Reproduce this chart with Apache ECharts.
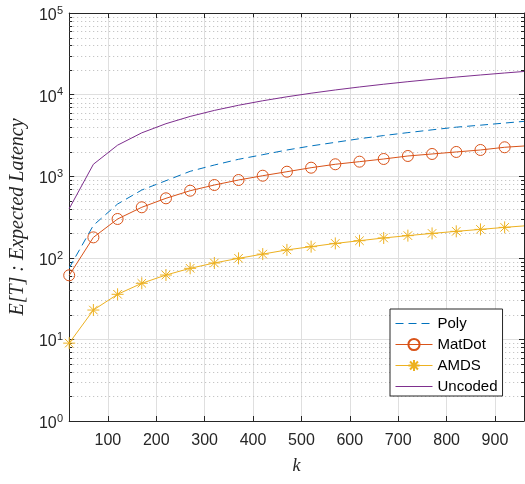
<!DOCTYPE html>
<html><head><meta charset="utf-8">
<script src="https://cdn.jsdelivr.net/npm/echarts@6/dist/echarts.min.js"></script>
<style>html,body{margin:0;padding:0;background:#fff}#c{width:525px;height:484px}</style>
</head><body><div id="c"></div>
<script>
// ---- data ----
const kValues       = [20, 70, 120, 170, 220, 270, 320, 370, 420, 470, 520, 570, 620, 670, 720, 770, 820, 870, 920, 960];
const polyValues    = [75, 250, 456, 677, 881, 1148, 1371, 1611, 1835, 2094, 2350, 2600, 2880, 3150, 3420, 3700, 3990, 4220, 4480, 4700];
const matdotValues  = [61, 178, 299, 416, 536, 664, 780, 898, 1014, 1135, 1271, 1400, 1507, 1625, 1769, 1872, 1982, 2096, 2262, 2345];
const amdsValues    = [9, 22.9, 35.7, 48.7, 61.5, 74.3, 86.4, 98.5, 111, 125, 137, 150, 162, 175, 187, 199, 211, 223, 236, 246];
const uncodedValues = [400, 1400, 2400, 3400, 4400, 5400, 6400, 7400, 8400, 9400, 10400, 11400, 12400, 13400, 14400, 15400, 16400, 17400, 18400, 19200];
const seriesNames   = ['Poly', 'MatDot', 'AMDS', 'Uncoded'];
const xMin = 20, xMax = 960;
const yMin = 1, yMax = 100000;
const minorMantissas = [2, 3, 4, 5, 6, 7, 8, 9];
const decades = [1, 10, 100, 1000, 10000];

const minorGridValues = [];
decades.forEach(d => minorMantissas.forEach(m => minorGridValues.push(m * d)));

const C = { poly: '#0072BD', matdot: '#D95319', amds: '#EDB120', uncoded: '#7E2F8E' };
const AX = '#262626';
const FONT = '"Liberation Sans", Arial, Helvetica, sans-serif';
const SERIF = '"Liberation Serif", "Times New Roman", serif';
const STAR = 'path://M5,0L5,10M0,5L10,5M1.46,1.46L8.54,8.54M1.46,8.54L8.54,1.46';
const NOSYM = { color: 'rgba(0,0,0,0)', borderColor: 'rgba(0,0,0,0)', borderWidth: 0 };

function mk(vals) {
  return kValues.map((k, i) => i === kValues.length - 1 ? { value: [k, vals[i]], symbol: 'none' } : [k, vals[i]]);
}

const chart = echarts.init(document.getElementById('c'), null, { renderer: 'canvas' });

const xBase = {
  type: 'value', min: xMin, max: xMax, splitNumber: 10,
  axisLine: { onZero: false, lineStyle: { color: AX, width: 1 } },
  axisTick: { inside: true, length: 5, lineStyle: { color: AX } },
};
const yBase = {
  type: 'log', logBase: 10, min: yMin, max: yMax, splitNumber: 5,
  axisLine: { onZero: false, lineStyle: { color: AX, width: 1 } },
  axisTick: { inside: true, length: 5, lineStyle: { color: AX } },
  minorTick: { show: false }
};

chart.setOption({
  animation: false,
  backgroundColor: '#fff',
  grid: { left: 63, right: 1, top: 13, bottom: 63, containLabel: false },
  xAxis: [
    Object.assign({}, xBase, {
      position: 'bottom',
      name: 'k', nameLocation: 'middle', nameGap: 36,
      nameTextStyle: { fontFamily: SERIF, fontStyle: 'italic', fontSize: 18, color: AX },
      axisLabel: { show: true, margin: 12, color: AX, fontFamily: FONT, fontSize: 16, showMinLabel: false, showMaxLabel: false },
      splitLine: { show: true, lineStyle: { color: '#dfdfdf', width: 1 } }
    }),
    Object.assign({}, xBase, {
      position: 'top',
      axisLabel: { show: false }, splitLine: { show: false }
    })
  ],
  yAxis: [
    Object.assign({}, yBase, {
      position: 'left',
      name: 'E[T] : Expected Latency', nameLocation: 'middle', nameGap: 38, nameRotate: 90,
      nameTextStyle: { fontFamily: SERIF, fontStyle: 'italic', fontSize: 20, color: AX },
      axisLabel: {
        show: true, margin: 6, color: AX, align: 'right',
        formatter: v => '{e|' + Math.round(Math.log10(v)) + '}\n{b|10}{s|}',
        rich: {
          e: { fontFamily: FONT, fontSize: 11, lineHeight: 5, color: AX, align: 'right' },
          b: { fontFamily: FONT, fontSize: 16, lineHeight: 4.5, color: AX },
          s: { width: 6.5, lineHeight: 4.5 }
        }
      },
      splitLine: { show: true, lineStyle: { color: '#dfdfdf', width: 1 } }
    }),
    Object.assign({}, yBase, {
      position: 'right',
      axisLabel: { show: false }, splitLine: { show: false }
    })
  ],
  legend: {
    data: [
      { name: 'Poly', itemStyle: NOSYM },
      { name: 'MatDot' },
      { name: 'AMDS' },
      { name: 'Uncoded', itemStyle: NOSYM }
    ],
    orient: 'vertical',
    left: 390, top: 309,
    padding: [7, 5, 2, 5],
    itemWidth: 37, itemHeight: 14, itemGap: 6,
    lineStyle: { width: 1 },
    backgroundColor: '#fff', borderColor: AX, borderWidth: 1, borderRadius: 0,
    textStyle: { fontFamily: FONT, fontSize: 15, color: '#000' }
  },
  series: [
    {
      type: 'custom', name: '__minor', silent: true, z: 1,
      xAxisIndex: 0, yAxisIndex: 0,
      data: minorGridValues.map(v => [xMin, v]),
      encode: { x: 0, y: 1 },
      renderItem: function (params, api) {
        const p = api.coord([xMin, api.value(1)]);
        const cs = params.coordSys;
        const x0 = cs.x, x1 = cs.x + cs.width, y = Math.round(p[1]) + 0.5;
        return {
          type: 'group',
          children: [
            { type: 'line', shape: { x1: x0, y1: y, x2: x1, y2: y }, style: { stroke: '#b9b9b9', lineWidth: 1, lineDash: [1, 3] } },
            { type: 'line', shape: { x1: x0, y1: y, x2: x0 + 3, y2: y }, style: { stroke: AX, lineWidth: 1 } },
            { type: 'line', shape: { x1: x1 - 3, y1: y, x2: x1, y2: y }, style: { stroke: AX, lineWidth: 1 } }
          ]
        };
      }
    },
    {
      name: 'Poly', type: 'line', z: 3, data: mk(polyValues), symbol: 'none',
      lineStyle: { color: C.poly, width: 1, type: [8, 5] },
      itemStyle: { color: C.poly }
    },
    {
      name: 'MatDot', type: 'line', z: 4, data: mk(matdotValues), symbol: 'circle', symbolSize: 11,
      lineStyle: { color: C.matdot, width: 1 },
      itemStyle: { color: 'rgba(255,255,255,0)', borderColor: C.matdot, borderWidth: 1 }
    },
    {
      name: 'AMDS', type: 'line', z: 4, data: mk(amdsValues), symbol: STAR, symbolSize: 12,
      lineStyle: { color: C.amds, width: 1 },
      itemStyle: { color: C.amds, borderColor: C.amds, borderWidth: 1 }
    },
    {
      name: 'Uncoded', type: 'line', z: 3, data: mk(uncodedValues), symbol: 'none',
      lineStyle: { color: C.uncoded, width: 1 },
      itemStyle: { color: C.uncoded }
    }
  ]
});
</script>
</body></html>
